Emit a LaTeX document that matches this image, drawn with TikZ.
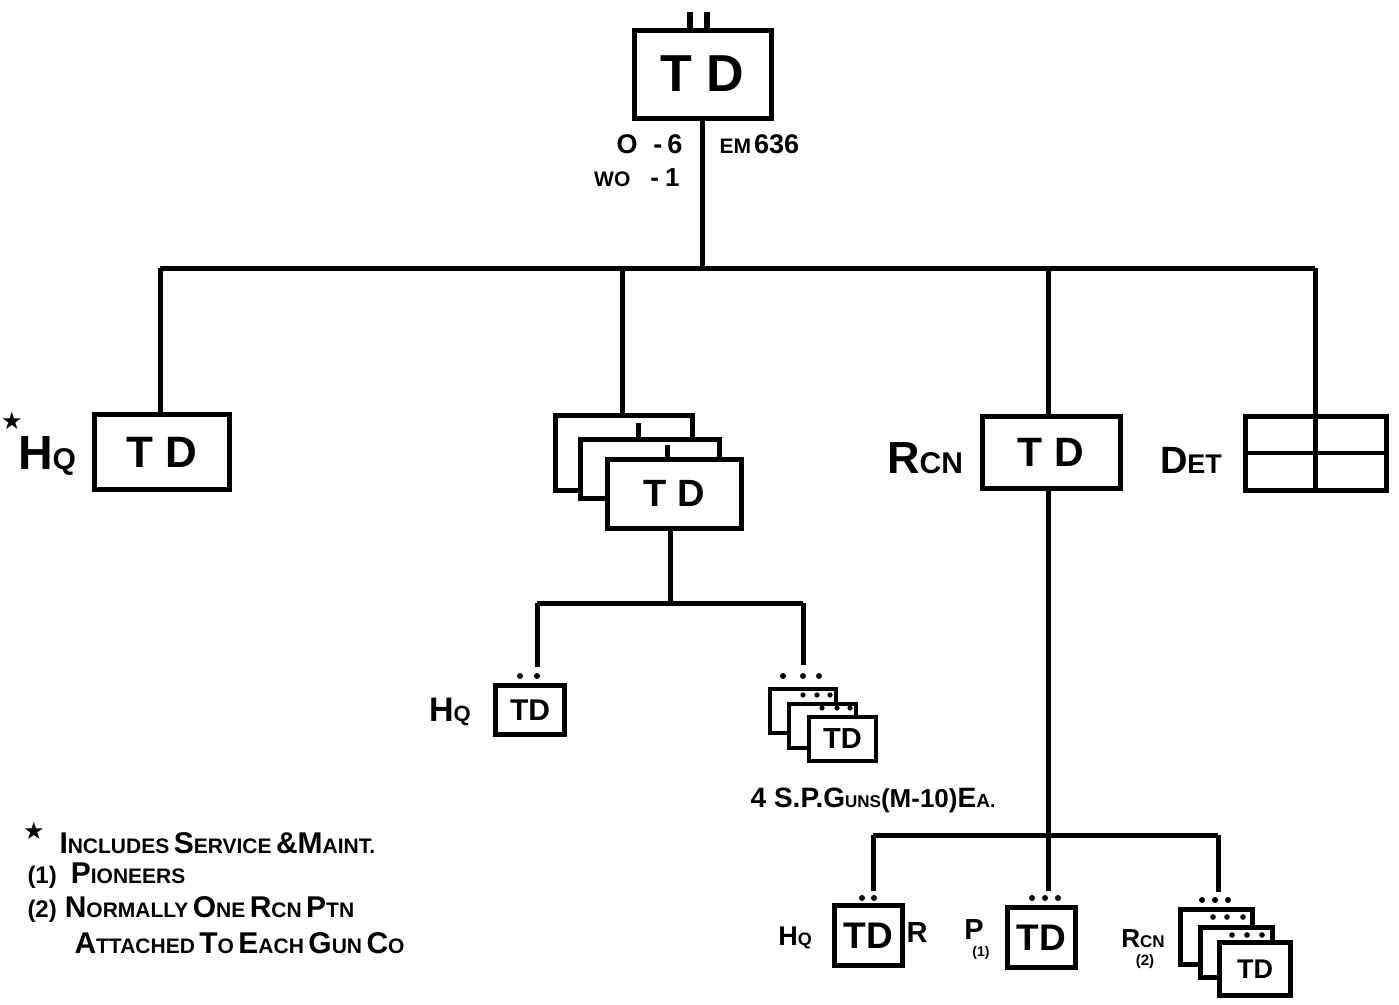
\documentclass[tikz,border=0pt]{standalone}
\usepackage{fontspec}
\setmainfont{Liberation Sans}
\newfontfamily\dejavu{DejaVu Sans}
\newcommand\SCc[4]{{\fontsize{#1}{#1}\selectfont #3}{\fontsize{#2}{#2}\selectfont #4}}
\newcommand\LG[2]{\SCc{30}{21}{#1}{#2}}
\begin{document}
\begin{tikzpicture}[x=1pt,y=-1pt,line width=5pt,
  fs/.style={font=\bfseries\fontsize{#1}{#1}\selectfont},
  box/.style={draw,fill=white,line width=5pt,inner sep=0pt},
  sbox/.style={draw,fill=white,line width=4pt,inner sep=0pt},
  lbl/.style={inner sep=0pt,font=\bfseries},
  leg/.style={inner sep=0pt,anchor=west,font=\bfseries\fontsize{16}{16}\selectfont}]
\fill[white] (0,0) rectangle (1399,1004);
\useasboundingbox (0,0) rectangle (1399,1004);

% ---- top box
\node[box,minimum width=137pt,minimum height=88pt,fs=52] (top) at (702.5,74) {T D};
\coordinate (st1) at (690,12);
\coordinate (st2) at (707,12);
\draw[line width=6pt] (st1) -- (st1 |- top.north);
\draw[line width=6pt] (st2) -- (st2 |- top.north);
\node[lbl,anchor=east] (o6) at (685,144) {\SCc{27}{27}{O}{}\hspace{16pt}\SCc{27}{27}{-\hspace{5pt}6}{}};
\node[lbl,anchor=east] (wo1) at (682,178) {\SCc{21}{21}{WO}{}\hspace{20pt}\SCc{26}{26}{-\hspace{6pt}1}{}};
\node[lbl,anchor=west] (em) at (717,144) {\SCc{21}{21}{EM}{}\hspace{3pt}\SCc{27}{27}{636}{}};

% ---- main bus
\coordinate (b1L) at (160,268);
\coordinate (b1M) at (622,268);
\coordinate (b1N) at (1048,268);
\coordinate (b1R) at (1315,268);
\draw (top.south) -- (top.south |- b1L);
\draw (b1L) -- (b1R);

% ---- HQ
\node[box,minimum width=135pt,minimum height=75pt,fs=44] (hq) at (162,452) {T D};
\draw (b1L) -- (b1L |- hq.north);
\node[lbl] (hqlbl) at (47,456) {\SCc{48}{30}{H}{Q}};
\node[lbl,font=\dejavu\fontsize{24}{24}\selectfont] (star) at (12,421) {★};

% ---- gun companies (stack)
\node[box,minimum width=137pt,minimum height=75pt] (mid1) at (623.5,452.5) {};
\draw (b1M) -- (b1M |- mid1.north);
\coordinate (m2s) at (638,423);
\draw (m2s) -- (m2s |- 0,437);
\node[box,minimum width=139pt,minimum height=59pt] (mid2) at (649.5,468.5) {};
\coordinate (m3s) at (667,445);
\draw (m3s) -- (m3s |- 0,457);
\node[box,minimum width=134pt,minimum height=69pt,fs=38] (mid3) at (674,493.5) {T D};

\coordinate (b2M) at (670,603);
\coordinate (b2L) at (537,603);
\coordinate (b2R) at (803,603);
\draw (b2M |- mid3.south) -- (b2M);
\draw (b2L) -- (b2R);

% small HQ
\coordinate (d1) at (537,667);
\draw (b2L) -- (d1);
\fill (520,676) circle (3pt) (537,676) circle (3pt);
\node[box,minimum width=69pt,minimum height=49pt,fs=30] (shq) at (530,710) {TD};
\node[lbl] (shqlbl) at (450,712) {\SCc{34}{22}{H}{Q}};

% small gun stack
\coordinate (d2) at (803,665);
\draw (b2R) -- (d2);
\fill (783,676) circle (3pt) (803,676) circle (3pt) (819,676) circle (3pt);
\node[sbox,minimum width=66pt,minimum height=44pt] (sa) at (803,711) {};
\fill (803,695) circle (2.6pt) (817,695) circle (2.6pt) (830,695) circle (2.6pt);
\node[sbox,minimum width=67pt,minimum height=44pt] (sb) at (822.5,726) {};
\fill (822,708) circle (2.6pt) (837,708) circle (2.6pt) (850,708) circle (2.6pt);
\node[sbox,minimum width=67pt,minimum height=44pt,fs=29] (sc) at (842.5,739) {TD};
\node[lbl] (guns) at (873,800) {\SCc{28}{28}{4 S.P.}{}\SCc{28}{17}{G}{UNS}\SCc{26}{26}{(M-10)}{}\SCc{28}{19}{E}{A.}};

% ---- Recon company
\node[box,minimum width=138pt,minimum height=72pt,fs=41] (rcn) at (1051,452) {T D};
\draw (b1N) -- (b1N |- rcn.north);
\node[lbl] (rcnlbl) at (925,458) {\SCc{45}{30}{R}{CN}};

% ---- Det
\node[box,minimum width=141pt,minimum height=74pt] (det) at (1315.5,453) {};
\draw (b1R) -- (b1R |- det.south);
\draw[line width=4pt] (det.west) -- (det.east);
\node[lbl] (detlbl) at (1191,460) {\SCc{38}{27}{D}{ET}};

% ---- Recon sub-units
\coordinate (b3N) at (1048,835);
\coordinate (b3L) at (873,835);
\coordinate (b3R) at (1218,835);
\draw (b1N |- rcn.south) -- (b3N);
\draw (b3L) -- (b3R);

\coordinate (e1) at (875,891);
\draw (b3L) -- (b3L |- e1);
\fill (862,898) circle (3pt) (874,898) circle (3pt);
\node[box,minimum width=68pt,minimum height=60pt,fs=37] (bhq) at (868.5,935.5) {TD};
\node[lbl] (bhqlbl) at (795,938) {\SCc{27}{18}{H}{Q}};
\node[lbl] (rlbl) at (917,933) {\SCc{29}{29}{R}{}};

\coordinate (e2) at (1048,891);
\draw (b3N) -- (e2);
\fill (1032,898) circle (3pt) (1045,898) circle (3pt) (1058,898) circle (3pt);
\node[box,minimum width=68pt,minimum height=60pt,fs=37] (bp) at (1041.5,937.5) {TD};
\node[lbl] (plbl) at (974,930) {\SCc{29}{29}{P}{}};
\node[lbl] (p1lbl) at (981,953) {\SCc{14}{14}{(1)}{}};

\coordinate (e3) at (1218,892);
\draw (b3R) -- (e3);
\fill (1202,900) circle (3pt) (1215,900) circle (3pt) (1228,900) circle (3pt);
\node[box,minimum width=72pt,minimum height=55pt] (ra) at (1216.5,937) {};
\fill (1213,917) circle (2.8pt) (1227,917) circle (2.8pt) (1243,917) circle (2.8pt);
\node[box,minimum width=72pt,minimum height=50pt] (rb) at (1236.5,952.5) {};
\fill (1232,935) circle (2.8pt) (1247,935) circle (2.8pt) (1262,935) circle (2.8pt);
\node[box,minimum width=71pt,minimum height=53pt,fs=27] (rc) at (1255,969) {TD};
\node[lbl] (rrlbl) at (1143,939) {\SCc{26}{17}{R}{CN}};
\node[lbl] (r2lbl) at (1145,962) {\SCc{15}{15}{(2)}{}};

% ---- legend
\node[lbl,font=\dejavu\fontsize{24}{24}\selectfont] (lstar) at (34,831) {★};
\node[leg] (leg1) at (57,843) {\LG{I}{NCLUDES} \LG{S}{ERVICE} \LG{\&}{}\LG{M}{AINT.}};
\node[leg] (leg2) at (25,876) {\SCc{24}{24}{(1)}{}\hspace{14pt}\LG{P}{IONEERS}};
\node[leg] (leg3) at (25,910) {\SCc{24}{24}{(2)}{}\hspace{8pt}\LG{N}{ORMALLY} \LG{O}{NE} \LG{R}{CN} \LG{P}{TN}};
\node[leg] (leg4) at (72,943) {\LG{A}{TTACHED} \LG{T}{O} \LG{E}{ACH} \LG{G}{UN} \LG{C}{O}};
\end{tikzpicture}
\end{document}
